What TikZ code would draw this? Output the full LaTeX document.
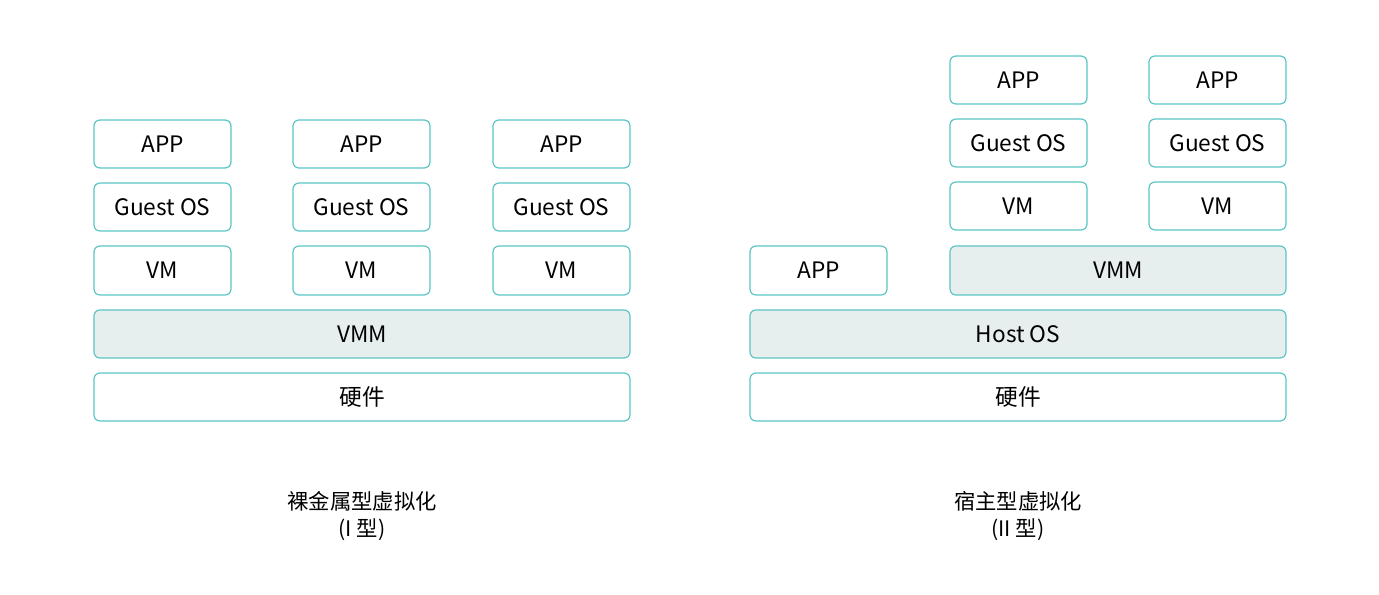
\documentclass[tikz,border=0pt]{standalone}
\usepackage{fontspec}
\setmainfont{Noto Sans CJK SC}
\definecolor{bordc}{HTML}{5CC6C6}
\definecolor{fillc}{HTML}{E6EEEE}
\begin{document}
\begin{tikzpicture}[x=0.75pt,y=-0.75pt,
  blk/.style={draw=bordc,line width=0.9pt,rounded corners=4.5pt,fill=white},
  gblk/.style={blk,fill=fillc},
  lbl/.style={font=\fontsize{17}{20}\selectfont},
  captxt/.style={font=\fontsize{16}{20}\selectfont,align=center}]
\useasboundingbox (0,0) rectangle (1379,595);
% left panel
\foreach \x/\n in {94/a,293/b,493/c}{
  \draw[blk] (\x,120) rectangle ++(137,48);
  \node[lbl] (app\n) at (\x+68.5,144) {APP};
  \draw[blk] (\x,183) rectangle ++(137,48);
  \node[lbl] (gos\n) at (\x+68.5,207) {Guest OS};
  \draw[blk] (\x,246) rectangle ++(137,49);
  \node[lbl] (vm\n) at (\x+68.5,270.5) {VM};
}
\draw[gblk] (94,310) rectangle (630,358);
\node[lbl] (vmmL) at (362,334) {VMM};
\draw[blk] (94,373) rectangle (630,421);
\node[lbl] (hwL) at (362,397) {硬件};
\node[captxt] (capL) at (362,516) {裸金属型虚拟化\\(I 型)};
% right panel
\foreach \x/\n in {950/d,1149/e}{
  \draw[blk] (\x,56) rectangle ++(137,48);
  \node[lbl] (app\n) at (\x+68.5,80) {APP};
  \draw[blk] (\x,119) rectangle ++(137,48);
  \node[lbl] (gos\n) at (\x+68.5,143) {Guest OS};
  \draw[blk] (\x,182) rectangle ++(137,48);
  \node[lbl] (vm\n) at (\x+68.5,206) {VM};
}
\draw[blk] (750,246) rectangle ++(137,49);
\node[lbl] (appH) at (818.5,270.5) {APP};
\draw[gblk] (950,246) rectangle (1286,295);
\node[lbl] (vmmR) at (1118,270.5) {VMM};
\draw[gblk] (750,310) rectangle (1286,358);
\node[lbl] (hos) at (1018,334) {Host OS};
\draw[blk] (750,373) rectangle (1286,421);
\node[lbl] (hwR) at (1018,397) {硬件};
\node[captxt] (capR) at (1018,516) {宿主型虚拟化\\(II 型)};
\end{tikzpicture}
\end{document}
